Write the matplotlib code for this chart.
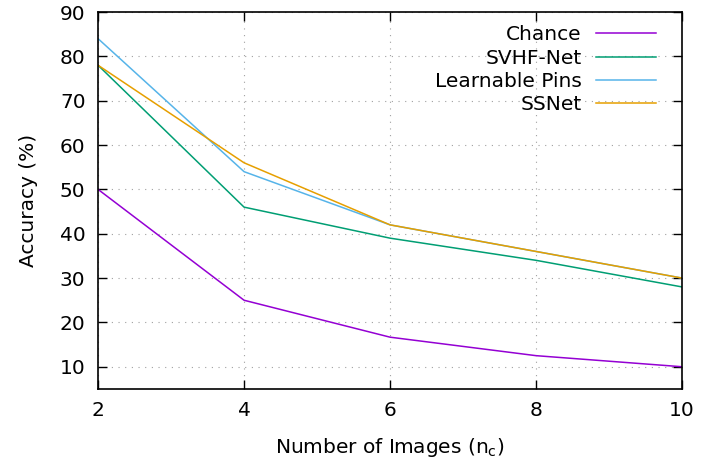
import matplotlib.pyplot as plt
import numpy as np

# number of images n_c
n_images = [2, 4, 6, 8, 10]

# accuracy (%) per method
chance = [50, 25, 16.67, 12.5, 10]
svhf_net = [78, 46, 39, 34, 28]
learnable_pins = [84, 54, 42, 36, 30]
ssnet = [78, 56, 42, 36, 30]

series = [
    ("Chance", chance, "#9400d3"),
    ("SVHF-Net", svhf_net, "#009e73"),
    ("Learnable Pins", learnable_pins, "#56b4e9"),
    ("SSNet", ssnet, "#e69f00"),
]

plt.rcParams['font.family'] = ['DejaVu Sans']
fig = plt.figure(figsize=(7.21, 4.63), dpi=100)
ax = fig.add_axes([0.136, 0.160, 0.810, 0.814])

for name, vals, col in series:
    ax.plot(n_images, vals, color=col, linewidth=1.1, label=name)

ax.set_xlim(2, 10)
ax.set_ylim(5, 90)
ax.set_xticks([2, 4, 6, 8, 10])
ax.set_yticks(np.arange(10, 91, 10))

# gnuplot-like dotted grid and inward mirrored ticks
ax.grid(True, linestyle=(0, (1, 5)), color="#a0a0a0", linewidth=0.8)
ax.tick_params(direction="in", length=6.5, width=1, top=True, right=True,
               labelsize=14.5, pad=9)
for s in ax.spines.values():
    s.set_linewidth(1.2)

ax.set_xlabel("Number of Images (n$_\\mathregular{c}$)", fontsize=14.5, labelpad=11)
ax.set_ylabel("Accuracy (%)", fontsize=14.5, labelpad=16)

leg = ax.legend(loc="upper right", bbox_to_anchor=(0.983, 1.008),
                frameon=False, markerfirst=False,
                fontsize=14.5, handlelength=3.0, labelspacing=0.22,
                borderaxespad=0.4, borderpad=0.4, handletextpad=0.7)

fig.savefig("out.png", dpi=100)
